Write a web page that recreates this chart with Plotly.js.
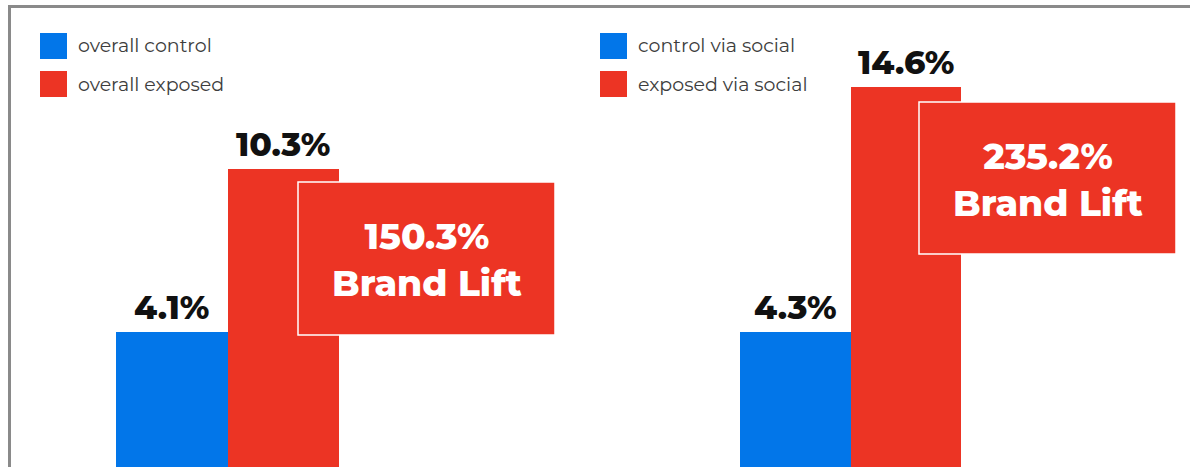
<!DOCTYPE html>
<html>
<head>
<meta charset="utf-8">
<script src="https://cdn.plot.ly/plotly-3.0.1.min.js"></script>
<style>
html,body{margin:0;padding:0;background:#fff;overflow:hidden;}
#chart{width:1190px;height:467px;}
</style>
</head>
<body>
<div id="chart"></div>
<script>
// ---- data ----
const panels = ["overall", "via social"];
const controlNames = ["overall control", "control via social"];
const exposedNames = ["overall exposed", "exposed via social"];
const controlValues = [4.1, 4.3];
const exposedValues = [10.3, 14.6];
const brandLift = [150.3, 235.2];

// ---- style ----
const BLUE = "#0276E9";
const RED = "#EC3424";
const barFloor = -2.5;           // bars run below the visible frame bottom
const yRanges = [[-1.03, 16.73], [-1.39, 18.24]];
const xDomains = [[116/1190, 339/1190], [740/1190, 961/1190]];
const calloutBoxes = [[298, 555, 182, 335], [919, 1176, 102, 254]]; // px: x0,x1,top,bottom
const numFont = "Montserrat, 'Open Sans', 'DejaVu Sans', sans-serif";
const W = 1190, H = 467;

const traces = [];
const annotations = [];
const shapes = [];

panels.forEach((p, i) => {
  const xa = i === 0 ? "x" : "x2";
  const ya = i === 0 ? "y" : "y2";
  traces.push({
    type: "bar", x: [p], y: [controlValues[i] - barFloor], base: barFloor,
    name: controlNames[i], marker: {color: BLUE}, xaxis: xa, yaxis: ya,
    showlegend: false, hoverinfo: "skip", offsetgroup: "c"
  });
  traces.push({
    type: "bar", x: [p], y: [exposedValues[i] - barFloor], base: barFloor,
    name: exposedNames[i], marker: {color: RED}, xaxis: xa, yaxis: ya,
    showlegend: false, hoverinfo: "skip", offsetgroup: "e"
  });
  // value labels
  [[controlValues[i], -0.25], [exposedValues[i], 0.25]].forEach(([v, dx]) => {
    annotations.push({
      xref: xa, yref: ya, x: dx, y: v, yanchor: "bottom", yshift: 3,
      text: v.toFixed(1) + "%", showarrow: false,
      font: {family: numFont, size: 33, color: "#111", weight: 800}
    });
  });
  // brand lift callout
  const [bx0, bx1, bt, bb] = calloutBoxes[i];
  shapes.push({
    type: "rect", xref: "paper", yref: "paper",
    x0: bx0 / W, x1: bx1 / W, y0: 1 - bb / H, y1: 1 - bt / H,
    fillcolor: RED, line: {color: "#ffffff", width: 1.5}, layer: "above"
  });
  annotations.push({
    xref: "paper", yref: "paper",
    x: (bx0 + bx1) / 2 / W, y: 1 - ((bt + bb) / 2 + 1) / H,
    xanchor: "center", yanchor: "middle",
    text: brandLift[i].toFixed(1) + "%<br>Brand Lift", showarrow: false,
    align: "center",
    font: {family: numFont, size: 36, color: "#ffffff", weight: 800}
  });
});

// legends (built from series names)
const legendX = [40, 600];
panels.forEach((p, i) => {
  [[controlNames[i], BLUE, 46], [exposedNames[i], RED, 84]].forEach(([nm, col, cy]) => {
    shapes.push({
      type: "rect", xref: "paper", yref: "paper",
      x0: legendX[i] / W, x1: (legendX[i] + 27) / W,
      y0: 1 - (cy + 13) / H, y1: 1 - (cy - 13) / H,
      fillcolor: col, line: {width: 0}
    });
    annotations.push({
      xref: "paper", yref: "paper", x: (legendX[i] + 36) / W, y: 1 - cy / H,
      xanchor: "left", yanchor: "middle", text: nm, showarrow: false,
      font: {family: numFont, size: 19, color: "#3d3d3d"}
    });
  });
});

// frame
shapes.push({type: "line", xref: "paper", yref: "paper", x0: 9.5/W, x1: 1, y0: 1 - 6.5/H, y1: 1 - 6.5/H, line: {color: "#8a8a8a", width: 3}});
shapes.push({type: "line", xref: "paper", yref: "paper", x0: 9.5/W, x1: 9.5/W, y0: 0, y1: 1 - 5/H, line: {color: "#8a8a8a", width: 3}});

const axisOff = {visible: false, fixedrange: true};
const layout = {
  width: W, height: H,
  margin: {l: 0, r: 0, t: 0, b: 0},
  paper_bgcolor: "#ffffff", plot_bgcolor: "rgba(0,0,0,0)",
  barmode: "group", bargap: 0, bargroupgap: 0,
  showlegend: false,
  xaxis: Object.assign({domain: xDomains[0], range: [-0.5, 0.5], type: "category"}, axisOff),
  xaxis2: Object.assign({domain: xDomains[1], range: [-0.5, 0.5], type: "category"}, axisOff),
  yaxis: Object.assign({domain: [0, 1], range: yRanges[0], anchor: "x"}, axisOff),
  yaxis2: Object.assign({domain: [0, 1], range: yRanges[1], anchor: "x2"}, axisOff),
  annotations: annotations,
  shapes: shapes
};

Plotly.newPlot("chart", traces, layout, {displayModeBar: false, staticPlot: true});
</script>
</body>
</html>
